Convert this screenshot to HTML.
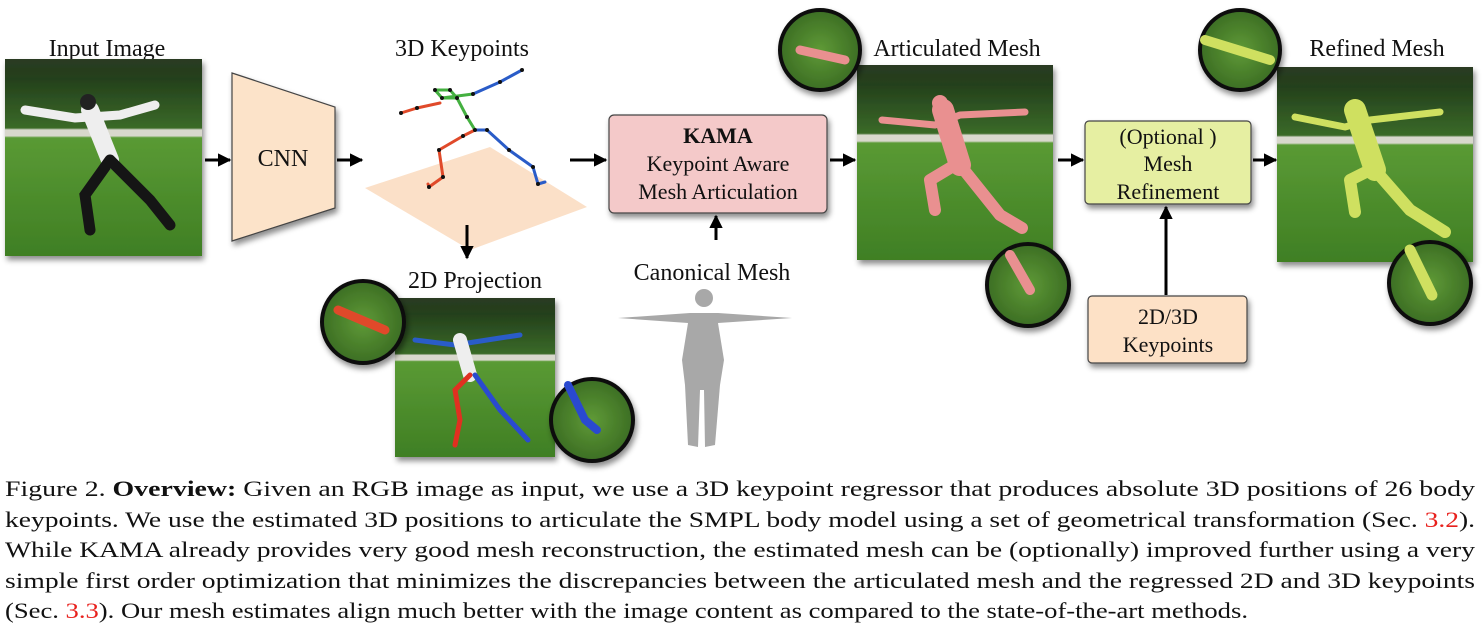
<!DOCTYPE html>
<html><head><meta charset="utf-8"><style>
html,body{margin:0;padding:0;background:#fff;}
svg{display:block;}
text{font-family:"Liberation Serif","Times New Roman",Tinos,serif;fill:#111;}
</style></head><body>
<svg width="1483" height="637" viewBox="0 0 1483 637" xmlns="http://www.w3.org/2000/svg">
<defs>
<linearGradient id="ph" x1="0" y1="0" x2="0" y2="1">
<stop offset="0" stop-color="#2a3a22"/><stop offset="0.1" stop-color="#24401c"/>
<stop offset="0.35" stop-color="#3a6a28"/><stop offset="0.36" stop-color="#d8d8cc"/>
<stop offset="0.39" stop-color="#d8d8cc"/><stop offset="0.40" stop-color="#5a9a34"/>
<stop offset="1" stop-color="#3f7f24"/></linearGradient>
<radialGradient id="cg"><stop offset="0" stop-color="#5f9a36"/><stop offset="1" stop-color="#3c6e24"/></radialGradient>
<filter id="sh" x="-10%" y="-10%" width="130%" height="130%"><feDropShadow dx="2" dy="4" stdDeviation="3" flood-opacity="0.45"/></filter>
<marker id="ar" viewBox="0 0 10 10" refX="9" refY="5" markerWidth="4.5" markerHeight="4.5" orient="auto"><path d="M0,0L10,5L0,10z" fill="#000"/></marker>
</defs>

<!-- labels -->
<g font-size="24" text-anchor="middle">
<text x="107" y="56">Input Image</text>
<text x="462" y="56">3D Keypoints</text>
<text x="957" y="56">Articulated Mesh</text>
<text x="1377" y="56">Refined Mesh</text>
<text x="475" y="288">2D Projection</text>
<text x="712" y="280">Canonical Mesh</text>
</g>

<!-- input image -->
<rect x="5" y="59" width="197" height="197" fill="url(#ph)" filter="url(#sh)"/>
<g stroke-linecap="round" fill="none">
<path d="M25,110 L75,118 L120,115 L155,105" stroke="#eee" stroke-width="9"/>
<path d="M90,110 L110,160" stroke="#eee" stroke-width="18"/>
<path d="M110,160 L85,195 L90,230 M110,160 L150,200 L170,225" stroke="#151515" stroke-width="11"/>
<circle cx="88" cy="102" r="8" fill="#222"/>
</g>
<!-- CNN -->
<polygon points="232,73 335,107 335,208 232,241" fill="#fce3c9" stroke="#444" stroke-width="1.2" filter="url(#sh)"/>
<text x="283" y="166" font-size="24" text-anchor="middle">CNN</text>

<!-- 3D keypoints -->
<polygon points="365,188 490,147 587,207 470,250" fill="#fbe0c8"/>
<g fill="none" stroke-width="3" stroke-linecap="round" stroke-linejoin="round">
<polyline points="435,90 450,90 457,98 442,98 435,90" stroke="#44b040"/>
<polyline points="457,98 467,117 475,130" stroke="#44b040"/>
<polyline points="442,98 473,94" stroke="#44b040"/>
<polyline points="473,94 500,82 522,70" stroke="#2a5cc8"/>
<polyline points="440,103 417,108 401,113" stroke="#e04a2a"/>
<polyline points="475,130 463,136 439,150 443,177 429,187 428,184" stroke="#e04a2a"/>
<polyline points="475,130 487,130 509,150 533,167 538,184 545,182" stroke="#2a5cc8"/>
</g>
<g fill="#111">
<circle cx="435" cy="90" r="2"/><circle cx="450" cy="90" r="2"/><circle cx="442" cy="98" r="2"/><circle cx="457" cy="98" r="2"/>
<circle cx="473" cy="94" r="2"/><circle cx="500" cy="82" r="2"/><circle cx="522" cy="70" r="2"/>
<circle cx="417" cy="108" r="2"/><circle cx="401" cy="113" r="2"/><circle cx="467" cy="117" r="2"/>
<circle cx="475" cy="130" r="2"/><circle cx="463" cy="136" r="2"/><circle cx="439" cy="150" r="2"/><circle cx="443" cy="177" r="2"/><circle cx="429" cy="187" r="2"/>
<circle cx="487" cy="130" r="2"/><circle cx="509" cy="150" r="2"/><circle cx="533" cy="167" r="2"/><circle cx="538" cy="184" r="2"/>
</g>

<!-- 2D projection -->
<rect x="395" y="298" width="160" height="159" fill="url(#ph)" filter="url(#sh)"/>
<g fill="none" stroke-linecap="round" stroke-width="5">
<path d="M415,340 L455,345 L500,338 L520,335" stroke="#2a5cc8"/>
<path d="M460,340 L470,375" stroke="#eee" stroke-width="14"/>
<path d="M470,375 L455,390 L460,420 L455,445" stroke="#e03020"/>
<path d="M475,375 L500,410 L528,440" stroke="#2a4ad0"/>
</g>
<g filter="url(#sh)">
<circle cx="363" cy="322" r="41" fill="url(#cg)" stroke="#111" stroke-width="4"/>
<path d="M338,310 L385,330" stroke="#e04a2a" stroke-width="9" stroke-linecap="round"/>
<circle cx="592" cy="420" r="41" fill="url(#cg)" stroke="#111" stroke-width="4"/>
<path d="M568,385 L585,420 L597,430" stroke="#2a4ad0" stroke-width="8" stroke-linecap="round" fill="none"/>
</g>

<!-- KAMA -->
<rect x="609" y="115" width="218" height="98" rx="5" fill="#f4c9c9" stroke="#444" stroke-width="1.2" filter="url(#sh)"/>
<text x="718" y="143" font-size="22" font-weight="bold" text-anchor="middle">KAMA</text>
<text x="718" y="171" font-size="22" text-anchor="middle">Keypoint  Aware</text>
<text x="718" y="199" font-size="22" text-anchor="middle">Mesh Articulation</text>

<!-- canonical mesh -->
<g fill="#a8a8a8">
<circle cx="704" cy="298" r="9"/>
<path d="M618,318 L690,313 L718,313 L792,318 L718,323 L724,360 L720,385 L715,445 L705,447 L704,390 L700,390 L698,447 L688,445 L685,385 L682,360 L688,323 Z"/>
</g>

<!-- articulated mesh -->
<rect x="857" y="65" width="196" height="195" fill="url(#ph)" filter="url(#sh)"/>
<g fill="none" stroke="#e99090" stroke-linecap="round" stroke-linejoin="round">
<path d="M882,120 L935,125 L960,115 L1025,112" stroke-width="7"/>
<path d="M943,110 L960,165" stroke-width="22"/>
<path d="M955,165 L930,180 L935,210 M960,165 L1000,215 L1022,228" stroke-width="12"/>
<circle cx="940" cy="103" r="8" fill="#e99090" stroke="none"/>
</g>
<g filter="url(#sh)">
<circle cx="820" cy="50" r="40" fill="url(#cg)" stroke="#111" stroke-width="4"/>
<path d="M800,50 L845,60" stroke="#e99090" stroke-width="9" stroke-linecap="round"/>
<circle cx="1028" cy="285" r="41" fill="url(#cg)" stroke="#111" stroke-width="4"/>
<path d="M1010,255 L1030,290" stroke="#e99090" stroke-width="10" stroke-linecap="round"/>
</g>

<!-- optional box -->
<rect x="1085" y="121" width="166" height="83" rx="4" fill="#e6efa2" stroke="#444" stroke-width="1.2" filter="url(#sh)"/>
<text x="1168" y="144" font-size="22" text-anchor="middle">(Optional )</text>
<text x="1168" y="171" font-size="22" text-anchor="middle">Mesh</text>
<text x="1168" y="199" font-size="22" text-anchor="middle">Refinement</text>

<rect x="1088" y="296" width="159" height="67" rx="4" fill="#fde1c6" stroke="#444" stroke-width="1.2" filter="url(#sh)"/>
<text x="1168" y="324" font-size="22" text-anchor="middle">2D/3D</text>
<text x="1168" y="352" font-size="22" text-anchor="middle">Keypoints</text>

<!-- refined mesh -->
<rect x="1277" y="67" width="196" height="195" fill="url(#ph)" filter="url(#sh)"/>
<g fill="none" stroke="#cfe060" stroke-linecap="round" stroke-linejoin="round">
<path d="M1295,117 L1345,127 L1370,120 L1440,112" stroke-width="7"/>
<path d="M1355,110 L1375,170" stroke-width="22"/>
<path d="M1370,170 L1350,180 L1355,212 M1375,170 L1410,210 L1445,232" stroke-width="12"/>
<circle cx="1355" cy="108" r="8" fill="#cfe060" stroke="none"/>
</g>
<g filter="url(#sh)">
<circle cx="1240" cy="50" r="40" fill="url(#cg)" stroke="#111" stroke-width="4"/>
<path d="M1205,40 L1270,60" stroke="#cfe060" stroke-width="10" stroke-linecap="round"/>
<circle cx="1430" cy="283" r="41" fill="url(#cg)" stroke="#111" stroke-width="4"/>
<path d="M1410,250 L1432,295" stroke="#cfe060" stroke-width="11" stroke-linecap="round"/>
</g>

<!-- arrows -->
<g stroke="#000" stroke-width="3" marker-end="url(#ar)">
<line x1="205" y1="160" x2="230" y2="160"/>
<line x1="337" y1="160" x2="362" y2="160"/>
<line x1="570" y1="160" x2="606" y2="160"/>
<line x1="830" y1="160" x2="855" y2="160"/>
<line x1="1058" y1="160" x2="1083" y2="160"/>
<line x1="1253" y1="160" x2="1276" y2="160"/>
<line x1="467" y1="225" x2="467" y2="258"/>
<line x1="716" y1="240" x2="716" y2="216"/>
<line x1="1166" y1="295" x2="1166" y2="207"/>
</g>

<!-- caption -->
<g font-size="22">
<text x="5" y="496" textLength="1470" lengthAdjust="spacingAndGlyphs">Figure 2. <tspan font-weight="bold">Overview:</tspan>  Given an RGB image as input, we use a 3D keypoint regressor that produces absolute 3D positions of 26 body</text>
<text x="5" y="527" textLength="1470" lengthAdjust="spacingAndGlyphs">keypoints.  We use the estimated 3D positions to articulate the SMPL body model using a set of geometrical transformation (Sec. <tspan fill="#e8201c">3.2</tspan>).</text>
<text x="5" y="557" textLength="1470" lengthAdjust="spacingAndGlyphs">While KAMA already provides very good mesh reconstruction, the estimated mesh can be (optionally) improved further using a very</text>
<text x="5" y="588" textLength="1470" lengthAdjust="spacingAndGlyphs">simple first order optimization that minimizes the discrepancies between the articulated mesh and the regressed 2D and 3D keypoints</text>
<text x="5" y="618" textLength="1243" lengthAdjust="spacingAndGlyphs">(Sec. <tspan fill="#e8201c">3.3</tspan>). Our mesh estimates align much better with the image content as compared to the state-of-the-art methods.</text>
</g>
</svg>
</body></html>
